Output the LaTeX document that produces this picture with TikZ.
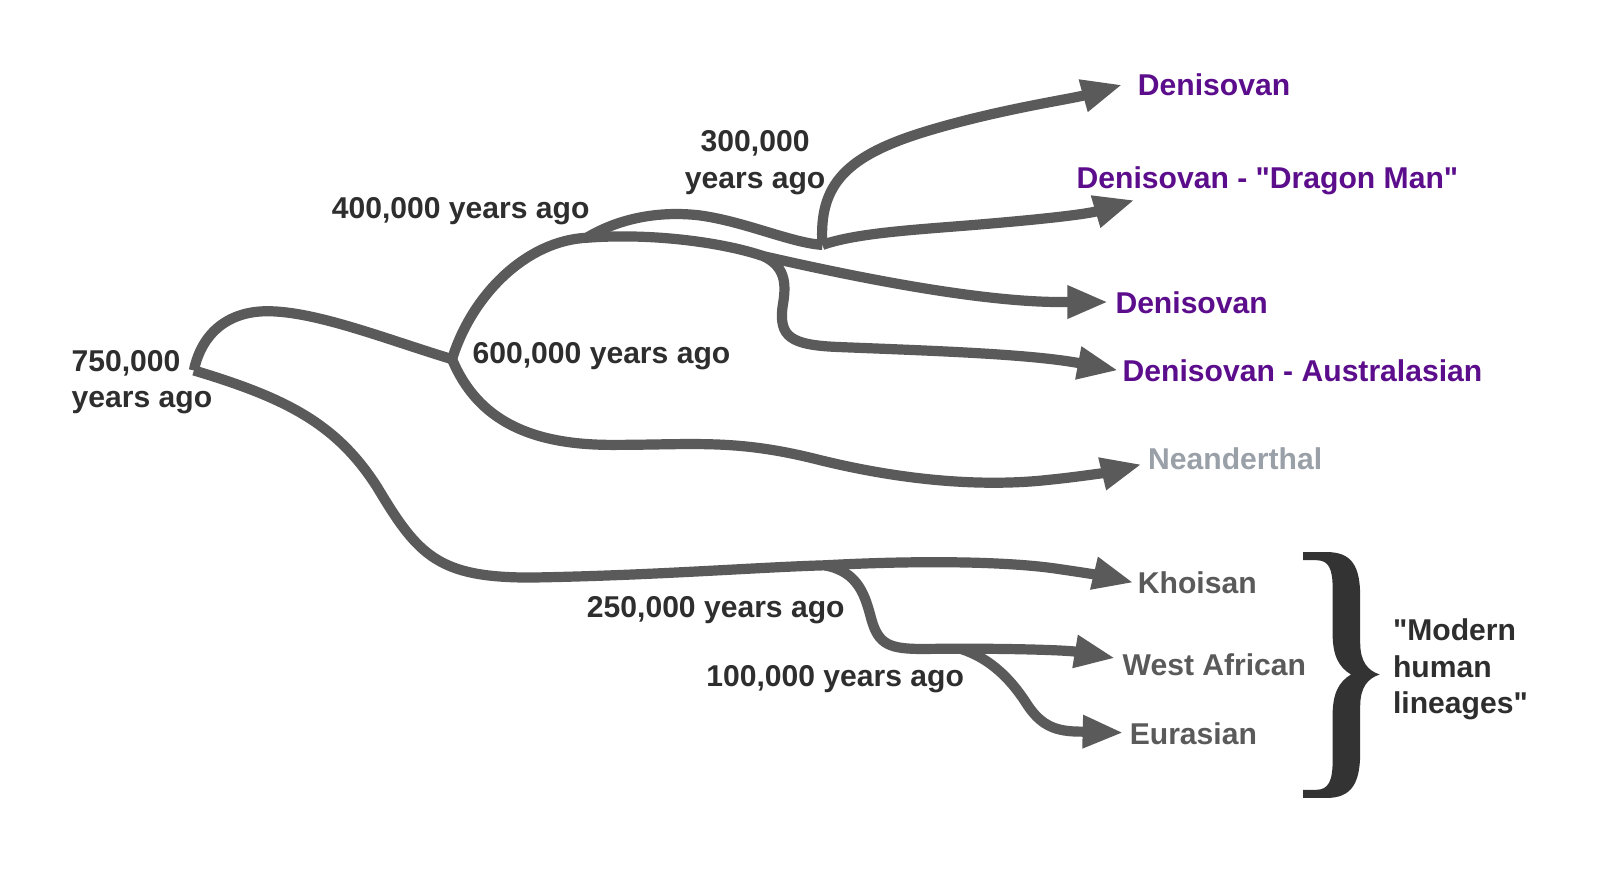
\documentclass[tikz,border=0pt]{standalone}
\usepackage{fontspec}
\setmainfont{Liberation Sans}[Ligatures=TeXOff]
\usetikzlibrary{arrows.meta}
\definecolor{linegray}{HTML}{5A5A5A}
\definecolor{dentxt}{HTML}{5B0D8C}
\definecolor{neantxt}{HTML}{9AA0A8}
\definecolor{modtxt}{HTML}{5A5A5A}
\definecolor{datetxt}{HTML}{2E2E2E}
\definecolor{bracecol}{HTML}{333333}
\begin{document}
\begin{tikzpicture}[x=1pt,y=-1pt,
  lineage/.style={draw=linegray, line width=10pt, line join=round},
  arr/.style={lineage, -{Triangle[length=40pt,width=30pt]}},
  txt/.style={font=\fontsize{29.5}{36}\selectfont\bfseries, inner sep=0pt},
  lbl/.style={txt, anchor=base west},
  den/.style={lbl, text=dentxt},
  modern/.style={lbl, text=modtxt},
  datelbl/.style={txt, text=datetxt}
]
\fill[white] (0,0) rectangle (1568,878);
\useasboundingbox (0,0) rectangle (1568,878);

% junctions
\coordinate (R) at (190,363);
\coordinate (J600) at (443,352);
\coordinate (J400) at (575,233);
\coordinate (J300) at (806,240);
\coordinate (JAu) at (748,251);
\coordinate (J250) at (808,554);
\coordinate (J100) at (942,636);

% labels
\node[den] (den1) at (1115,94) {Denisovan};
\node[den] (den2) at (1055,185) {Denisovan - "Dragon Man"};
\node[den] (den3) at (1093,307) {Denisovan};
\node[den] (den4) at (1100,374) {Denisovan - Australasian};
\node[lbl, text=neantxt] (nean) at (1125,460) {Neanderthal};
\node[modern] (khoi) at (1115,582) {Khoisan};
\node[modern] (wafr) at (1100,662) {West African};
\node[modern] (eura) at (1107,730) {Eurasian};
\node[datelbl, anchor=north west, align=left] (mod) at (1365,606) {"Modern\\human\\lineages"};

\node[datelbl, anchor=north, align=center] (d300) at (740,128) {300,000\\years ago};
\node[datelbl, anchor=base west] (d400) at (325,214) {400,000 years ago};
\node[datelbl, anchor=base west] (d600) at (463,356) {600,000 years ago};
\node[datelbl, anchor=north west, align=left] (d750) at (70,343) {750,000\\years ago};
\node[datelbl, anchor=base west] (d250) at (575,605) {250,000 years ago};
\node[datelbl, anchor=base west] (d100) at (692,673) {100,000 years ago};

% arrow tips (yshift is upward in canvas)
\coordinate (tD1) at ([xshift=-15pt,yshift=11pt]den1.base west);
\coordinate (tD2) at ([xshift=57pt,yshift=-11pt]den2.base west);
\coordinate (tD3) at ([xshift=-7pt,yshift=11pt]den3.base west);
\coordinate (tD4) at ([xshift=-4pt,yshift=11pt]den4.base west);
\coordinate (tNe) at ([xshift=-6pt,yshift=5pt]nean.base west);
\coordinate (tKh) at ([xshift=-4pt,yshift=11pt]khoi.base west);
\coordinate (tWA) at ([xshift=-7pt,yshift=17pt]wafr.base west);
\coordinate (tEu) at ([xshift=-6pt,yshift=12pt]eura.base west);

% lineages
\draw[lineage] (R) .. controls (198,325) and (225,305) .. (262,305)
  .. controls (310,305) and (380,333) .. (J600);
\draw[arr] (R) .. controls (280,390) and (330,415) .. (370,478)
  .. controls (410,545) and (430,566) .. (520,566)
  .. controls (640,564) and (740,556) .. (J250)
  .. controls (900,549) and (990,550) .. (1040,558)
  .. controls (1068,562) and (1090,566) .. (tKh);
\draw[arr] (J600) .. controls (462,290) and (515,236) .. (J400)
  .. controls (640,228) and (710,238) .. (JAu)
  .. controls (840,272) and (960,296) .. (1040,296) -- (tD3);
\draw[lineage] (J400) .. controls (610,212) and (650,207) .. (685,211)
  .. controls (730,217) and (775,238) .. (J300);
\draw[arr] (J300) .. controls (802,180) and (830,152) .. (910,128)
  .. controls (980,107) and (1050,97) .. (tD1);
\draw[arr] (J300) .. controls (840,228) and (900,225) .. (960,220)
  .. controls (1020,215) and (1065,210) .. (tD2);
\draw[arr] (JAu) .. controls (772,262) and (770,282) .. (767,300)
  .. controls (763,330) and (775,338) .. (820,340)
  .. controls (920,344) and (1010,347) .. (tD4);
\draw[arr] (J600) .. controls (468,412) and (520,436) .. (600,436)
  .. controls (680,436) and (720,430) .. (800,450)
  .. controls (880,470) and (960,478) .. (1030,470)
  .. controls (1060,467) and (1090,462) .. (tNe);
\draw[arr] (J250) .. controls (842,560) and (848,585) .. (854,607)
  .. controls (861,632) and (872,636) .. (905,636)
  .. controls (980,635) and (1045,637) .. (tWA);
\draw[arr] (J100) .. controls (970,645) and (990,665) .. (1005,688)
  .. controls (1020,712) and (1035,717) .. (1060,717) -- (tEu);

% brace
\fill[bracecol] (1277,541) -- (1300,541) .. controls (1325,541) and (1333,555) .. (1333,585)
  -- (1333,630) .. controls (1333,648) and (1340,657) .. (1352,661)
  .. controls (1340,665) and (1333,674) .. (1333,692)
  -- (1333,737) .. controls (1333,767) and (1325,782) .. (1300,782)
  -- (1277,782) -- (1277,774) -- (1290,774) .. controls (1302,774) and (1306,765) .. (1306,745)
  -- (1306,700) .. controls (1306,680) and (1312,668) .. (1324,661)
  .. controls (1312,654) and (1306,642) .. (1306,622)
  -- (1306,577) .. controls (1306,557) and (1302,549) .. (1290,549)
  -- (1277,549) -- cycle;
\end{tikzpicture}
\end{document}
